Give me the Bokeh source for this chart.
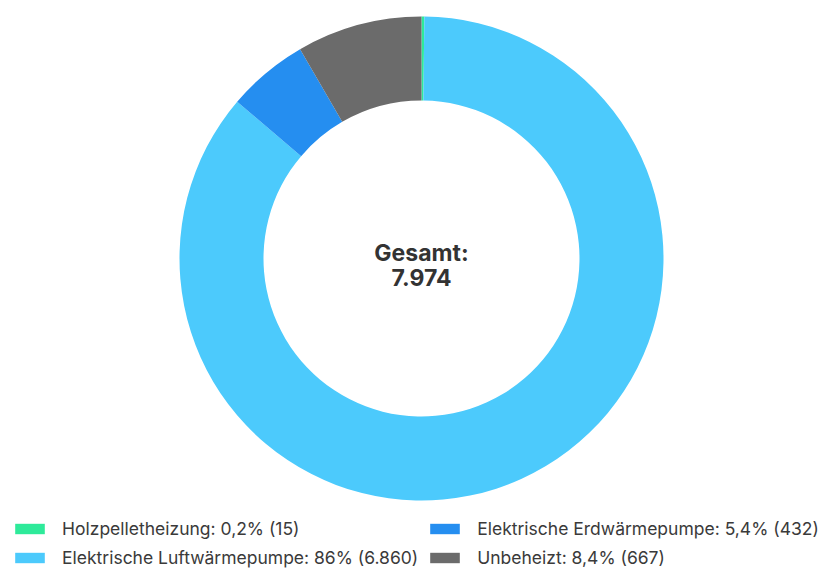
import numpy as np
from bokeh.plotting import figure
from bokeh.models import Range1d, Legend, LegendItem
from bokeh.core.properties import value
from bokeh.embed import file_html
from bokeh.resources import INLINE

categories = ["Holzpelletheizung", "Elektrische Luftwärmepumpe", "Elektrische Erdwärmepumpe", "Unbeheizt"]
counts = [15, 6860, 432, 667]
colors = ["#2EEA9A", "#4CCAFC", "#258EF0", "#6B6B6B"]
center_title = "Gesamt:"

FONT = "Inter"
W, H = 834, 568

total = sum(counts)

def fmt_pct(v):
    s = f"{v:.1f}"
    if s.endswith(".0"):
        s = s[:-2]
    return s.replace(".", ",")

def fmt_int(v):
    return f"{v:,}".replace(",", ".")

fracs = np.array(counts) / total
ends = np.cumsum(fracs)
starts = ends - fracs
start_angles = np.pi / 2 - 2 * np.pi * starts
end_angles = np.pi / 2 - 2 * np.pi * ends

p = figure(width=W, height=H, output_backend="svg", toolbar_location=None,
           x_range=Range1d(0, W), y_range=Range1d(568 - H, 568),
           min_border=0, outline_line_color=None, background_fill_color="white",
           border_fill_color="white")
p.axis.visible = False
p.grid.visible = False

cx, cy = 421, 568 - 258
items = []
for i, cat in enumerate(categories):
    r = p.annular_wedge(x=cx, y=cy, inner_radius=158, outer_radius=242,
                        inner_radius_units="screen", outer_radius_units="screen",
                        start_angle=start_angles[i], end_angle=end_angles[i], direction="clock",
                        fill_color=colors[i], line_color=None)
    label = f"{cat}: {fmt_pct(fracs[i] * 100)}% ({fmt_int(counts[i])})"
    items.append(LegendItem(label=label, renderers=[r]))

p.text(x=[cx], y=[568 - 252], text=[center_title], text_align="center", text_baseline="alphabetic",
       text_font=value(FONT), text_font_size="23px", text_font_style="bold", text_color="#333333")
p.text(x=[cx], y=[568 - 277], text=[fmt_int(total)], text_align="center", text_baseline="alphabetic",
       text_font=value(FONT), text_font_size="23px", text_font_style="bold", text_color="#333333")

legend = Legend(items=items, ncols=2, location=(11, 0), padding=0, margin=0,
                border_line_color=None, background_fill_alpha=0,
                glyph_width=37, glyph_height=13, label_standoff=14, spacing=8,
                label_height=20, label_text_font=FONT, label_text_font_size="17.5px",
                label_text_color="#3a3a3a")
p.add_layout(legend, "center")

open("out.html", "w").write(file_html(p, INLINE))
